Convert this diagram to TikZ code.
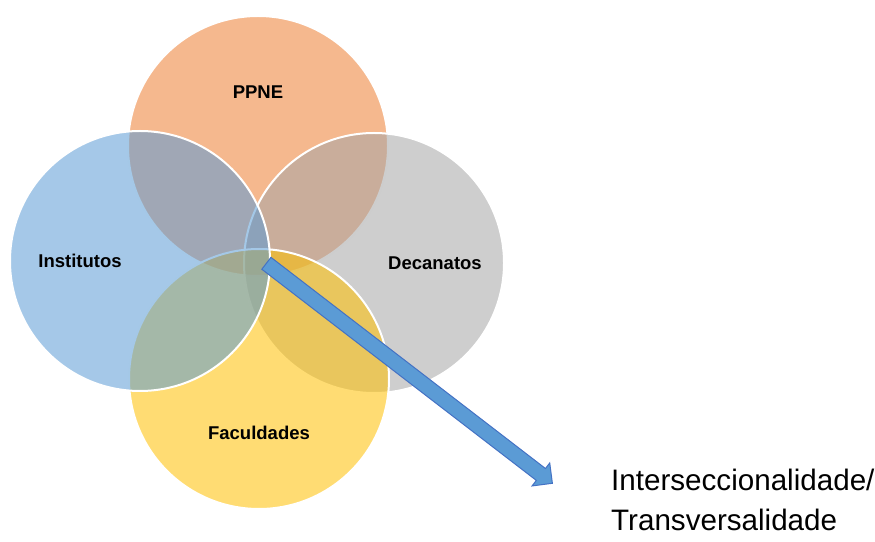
\documentclass[tikz,border=0pt]{standalone}
\usepackage{fontspec}
\setmainfont{Liberation Sans}
\usetikzlibrary{positioning, shapes.arrows, calc}

\definecolor{ppneorange}{HTML}{ED7D31}
\definecolor{instblue}{HTML}{5B9BD5}
\definecolor{decgray}{HTML}{A5A5A5}
\definecolor{facgold}{HTML}{FFC000}
\definecolor{arrowblue}{HTML}{5B9BD5}
\definecolor{arrowedge}{HTML}{4472C4}

\tikzset{
    x=1pt, y=1pt, % one unit is one pixel of the page
    bubble/.style={circle, minimum size=260pt, inner sep=0pt, draw=white, line width=2pt, fill opacity=0.55}, % the four overlapping sets
    area/.style={font=\fontsize{18.5}{22}\selectfont\bfseries}, % names inside the sets
    blockarrow/.style={single arrow, draw=arrowedge, fill=arrowblue, line width=1pt,
        inner xsep=0pt, inner ysep=7pt, text height=0pt, text depth=0pt, text width=0pt,
        single arrow head extend=7pt, single arrow head indent=0pt},
}

\begin{document}
\begin{tikzpicture}
    \useasboundingbox (0,0) rectangle (875,541);

    % sets, drawn back to front
    \node[bubble, fill=ppneorange] (ppne) at (258,395) {};
    \node[bubble, fill=decgray] (dec) at (374,278) {};
    \node[bubble, fill=facgold] (fac) at (259,162) {};
    \node[bubble, fill=instblue] (inst) at (140,280) {};

    \node[area] (ppnetext) at ([yshift=54pt]ppne.center) {PPNE};
    \node[area] (insttext) at ([xshift=-60pt]inst.center) {Institutos};
    \node[area] (dectext) at ([xshift=61pt]dec.center) {Decanatos};
    \node[area] (factext) at ([yshift=-54pt]fac.center) {Faculdades};

    % arrow out of the common intersection
    \coordinate (hub) at (266,278);
    \coordinate (tipend) at (552,58);
    \path let \p1 = ($(tipend)-(hub)$), \n1 = {atan2(\y1,\x1)}, \n2 = {veclen(\x1,\y1)} in
        node[blockarrow, rotate=\n1, minimum height=\n2, anchor=tail] (arrow) at (hub) {};

    \node[anchor=west, align=left, inner sep=0pt, font=\fontsize{29.6}{40}\selectfont] (trans) at (611,41)
        {Interseccionalidade/\\Transversalidade};
\end{tikzpicture}
\end{document}
